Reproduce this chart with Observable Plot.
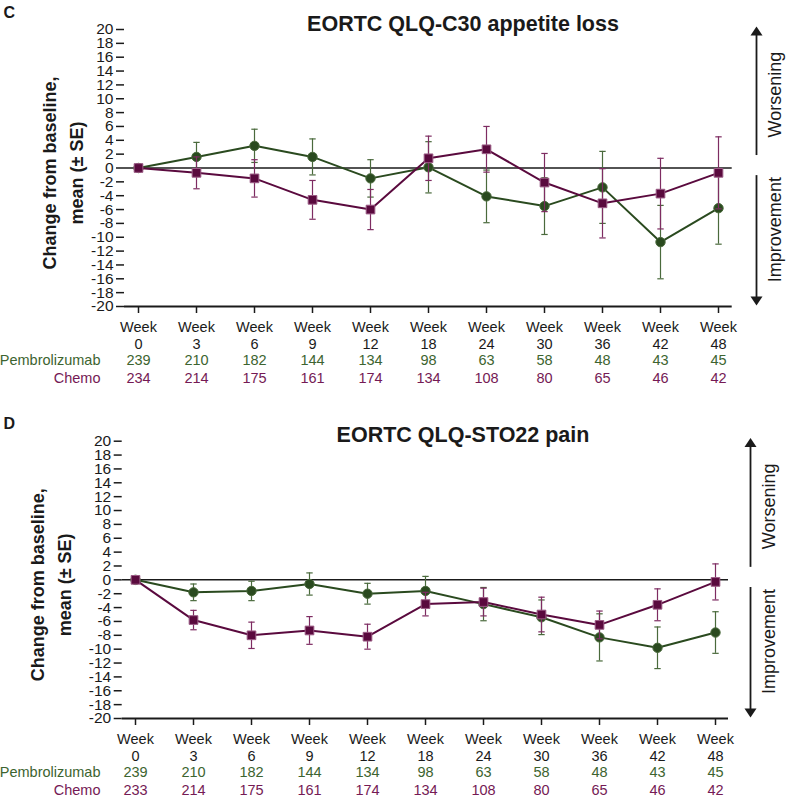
<!DOCTYPE html>
<html><head><meta charset="utf-8">
<script src="https://cdn.jsdelivr.net/npm/d3@7"></script>
<script src="https://cdn.jsdelivr.net/npm/@observablehq/plot@0.6"></script>
<style>
body{margin:0;background:#fff;}
#chart{width:787px;}
#chart svg{display:block;}
</style></head><body><div id="chart"></div>
<script>
// ---- data ----
const weeks = ["0","3","6","9","12","18","24","30","36","42","48"];
const yTicks = [20,18,16,14,12,10,8,6,4,2,0,-2,-4,-6,-8,-10,-12,-14,-16,-18,-20];
const seriesNames = ["Pembrolizumab","Chemo"];

// Panel C: EORTC QLQ-C30 appetite loss
const titleC = "EORTC QLQ-C30 appetite loss";
const pembroMeanC = [0, 1.6, 3.2, 1.6, -1.5, 0.1, -4.1, -5.5, -2.8, -10.7, -5.8];
const pembroSeC   = [0, 2.1, 2.4, 2.6, 2.7, 3.7, 3.8, 4.1, 5.2, 5.3, 5.2];
const chemoMeanC  = [0, -0.7, -1.5, -4.6, -6.0, 1.4, 2.7, -2.1, -5.1, -3.7, -0.7];
const chemoSeC    = [0, 2.3, 2.7, 2.8, 2.9, 3.2, 3.3, 4.2, 5.0, 5.1, 5.2];
const pembroNC    = [239, 210, 182, 144, 134, 98, 63, 58, 48, 43, 45];
const chemoNC     = [234, 214, 175, 161, 174, 134, 108, 80, 65, 46, 42];

// Panel D: EORTC QLQ-STO22 pain
const titleD = "EORTC QLQ-STO22 pain";
const pembroMeanD = [0, -1.8, -1.6, -0.6, -2.0, -1.6, -3.5, -5.4, -8.3, -9.8, -7.6];
const pembroSeD   = [0, 1.2, 1.4, 1.6, 1.5, 2.1, 2.4, 2.5, 3.4, 3.0, 3.0];
const chemoMeanD  = [0, -5.8, -8.0, -7.3, -8.2, -3.5, -3.2, -5.0, -6.5, -3.6, -0.3];
const chemoSeD    = [0, 1.4, 1.9, 2.0, 1.8, 1.7, 2.0, 2.5, 2.0, 2.3, 2.6];
const pembroND    = [239, 210, 182, 144, 134, 98, 63, 58, 48, 43, 45];
const chemoND     = [233, 214, 175, 161, 174, 134, 108, 80, 65, 46, 42];

// ---- styles ----
const GREEN = "#2a4a1f", GREEN_ERR = "#4a6a3c", GREEN_TXT = "#3d6430";
const PURPLE = "#5a0a3e", PURPLE_ERR = "#7e2c62", PURPLE_TXT = "#751a55";
const INK = "#1a1a1a";
const FONT = "'Liberation Sans', Arial, Helvetica, sans-serif";

const capSymbol = {draw(ctx, size){ const w = Math.sqrt(size/Math.PI); ctx.moveTo(-w,0); ctx.lineTo(w,0);} };
const triUp = {draw(ctx, size){ const r = Math.sqrt(size/Math.PI); ctx.moveTo(0,-0.75*r); ctx.lineTo(r,0.75*r); ctx.lineTo(-r,0.75*r); ctx.closePath(); }};
const triDown = {draw(ctx, size){ const r = Math.sqrt(size/Math.PI); ctx.moveTo(0,0.75*r); ctx.lineTo(r,-0.75*r); ctx.lineTo(-r,-0.75*r); ctx.closePath(); }};

function rowsOf(mean, se, n){ return weeks.map((w,i)=>({week:w, mean:mean[i], se:se[i], n:n[i]})); }

function seriesMarks(rows, color, errColor, symbol, r, stroke){
  const err = rows.filter(d=>d.se>0);
  return [
    Plot.ruleX(err, {x:"week", y1:d=>d.mean-d.se, y2:d=>d.mean+d.se, stroke:errColor, strokeWidth:1.2}),
    Plot.dot(err, {x:"week", y:d=>d.mean+d.se, symbol:capSymbol, r:3.2, fill:"none", stroke:errColor, strokeWidth:1.2}),
    Plot.dot(err, {x:"week", y:d=>d.mean-d.se, symbol:capSymbol, r:3.2, fill:"none", stroke:errColor, strokeWidth:1.2}),
    Plot.line(rows, {x:"week", y:"mean", stroke:color, strokeWidth:2}),
    Plot.dot(rows, {x:"week", y:"mean", symbol, r, fill:color, stroke:stroke, strokeWidth:1})
  ];
}

function panel(cfg){
  const {letter, title, pm, ps, cm, cs, pn, cn, height, ml, mr, mt, mb, ylabDx, ylabDy, letterDy, titleDy, lineDx, textDx} = cfg;
  const width = 787;
  const frameW = width - ml - mr;
  const pRows = rowsOf(pm, ps, pn);
  const cRows = rowsOf(cm, cs, cn);
  const last = weeks[weeks.length-1];
  return Plot.plot({
    width, height, marginLeft: ml, marginRight: mr, marginTop: mt, marginBottom: mb,
    x: {type:"point", domain: weeks, padding: 0.175, axis: null},
    y: {domain: [-20, 20], axis: null},
    style: {fontFamily: FONT, fontSize: "14.5px", color: INK, background: "#fff", overflow: "visible"},
    marks: [
      // axes
      Plot.axisY({ticks: yTicks, tickSize: 8, tickPadding: 3, fontSize: 15.5, strokeWidth: 1.5, label: null, tickFormat: d => String(d)}),
      Plot.axisX({tickSize: 7, tickPadding: 6, fontSize: 14.5, lineHeight: 17/14.5, strokeWidth: 1.5, label: null, tickFormat: d => `Week\n${d}`}),
      Plot.ruleY([-20], {stroke: INK, strokeWidth: 2}),
      Plot.ruleX([0], {y1: -20, y2: 20, dx: -frameW/2, stroke: INK, strokeWidth: 2}),
      Plot.ruleY([0], {stroke: INK, strokeWidth: 1.5}),
      // series
      ...seriesMarks(pRows, GREEN, GREEN_ERR, "circle", 4.7, "#4a6a3c"),
      ...seriesMarks(cRows, PURPLE, PURPLE_ERR, "square", 4.9, "#9a5a84"),
      // n at risk rows
      Plot.text(pRows, {x:"week", text: d=>String(d.n), frameAnchor:"bottom", lineAnchor:"top", dy: 48.7, fill: GREEN_TXT, fontSize: 14.5}),
      Plot.text(cRows, {x:"week", text: d=>String(d.n), frameAnchor:"bottom", lineAnchor:"top", dy: 66.7, fill: PURPLE_TXT, fontSize: 14.5}),
      Plot.text([seriesNames[0]], {text: d=>d, frameAnchor:"bottom-left", lineAnchor:"top", textAnchor:"end", dx: 100-ml, dy: 48.7, fill: GREEN_TXT, fontSize: 14.5}),
      Plot.text([seriesNames[1]], {text: d=>d, frameAnchor:"bottom-left", lineAnchor:"top", textAnchor:"end", dx: 100-ml, dy: 66.7, fill: PURPLE_TXT, fontSize: 14.5}),
      // y label
      Plot.text(["Change from baseline,\nmean (\u00b1 SE)"], {text: d=>d, frameAnchor:"left", textAnchor:"middle", lineAnchor:"middle", rotate:-90, dx: ylabDx, dy: ylabDy, fontSize: 18, fontWeight:"bold", lineHeight: 1.5, fill: INK}),
      // title and letter
      Plot.text([title], {text: d=>d, frameAnchor:"top-left", textAnchor:"middle", lineAnchor:"middle", dx: 462.5-ml, dy: titleDy, fontSize: 21.5, fontWeight:"bold", fill: INK}),
      Plot.text([letter], {text: d=>d, frameAnchor:"top-left", textAnchor:"start", lineAnchor:"middle", dx: 3-ml, dy: letterDy, fontSize: 16, fontWeight:"bold", fill: INK}),
      // direction arrows
      Plot.ruleX([last], {x: d=>d, y1: 1.8, y2: 19.4, dx: lineDx, stroke: INK, strokeWidth: 1.8}),
      Plot.ruleX([last], {x: d=>d, y1: -1.1, y2: -19.3, dx: lineDx, stroke: INK, strokeWidth: 1.8}),
      Plot.dot([last], {x: d=>d, y: 19.8, dx: lineDx, symbol: triUp, r: 6, fill: INK}),
      Plot.dot([last], {x: d=>d, y: -19.2, dx: lineDx, symbol: triDown, r: 6, fill: INK}),
      Plot.text(["Worsening"], {x: ()=>last, y: 10.6, text: d=>d, dx: textDx, rotate: -90, fontSize: 18, fill: INK}),
      Plot.text(["Improvement"], {x: ()=>last, y: -8.9, text: d=>d, dx: textDx, rotate: -90, fontSize: 18, fill: INK})
    ]
  });
}

const chart = document.getElementById("chart");
chart.append(panel({letter:"C", title:titleC, pm:pembroMeanC, ps:pembroSeC, cm:chemoMeanC, cs:chemoSeC, pn:pembroNC, cn:chemoNC,
  height:395, ml:124, mr:55.3, mt:29, mb:89, ylabDx:-64, ylabDy:5, letterDy:-16.5, titleDy:-5, lineDx:38, textDx:57}));
chart.append(panel({letter:"D", title:titleD, pm:pembroMeanD, ps:pembroSeD, cm:chemoMeanD, cs:chemoSeD, pn:pembroND, cn:chemoND,
  height:407, ml:121.7, mr:59, mt:45.7, mb:84, ylabDx:-73, ylabDy:5, letterDy:-17, titleDy:-6, lineDx:35, textDx:53.5}));
</script></body></html>
